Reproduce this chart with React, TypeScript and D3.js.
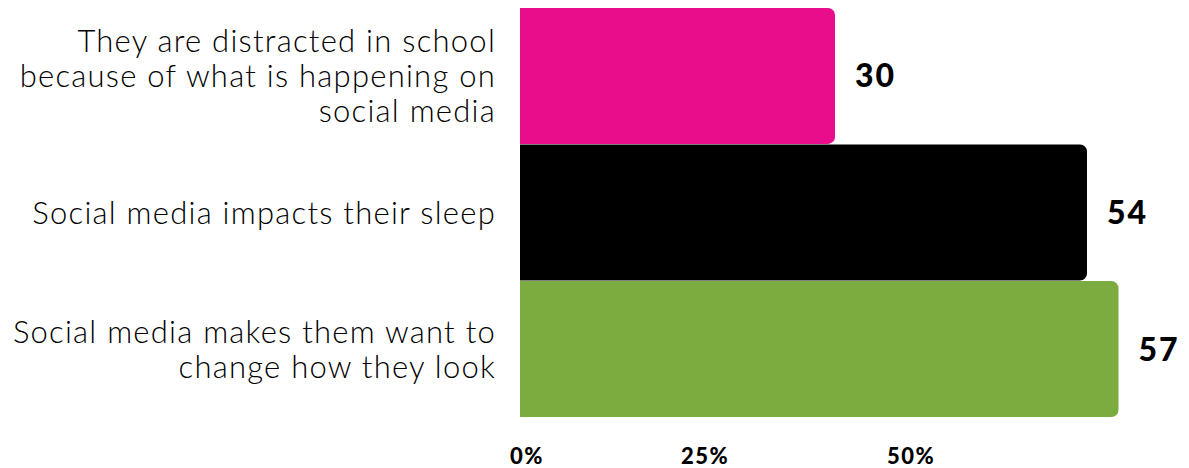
import React from "react";
import * as d3 from "d3";

// Share of respondents agreeing with each statement (percent)
const categories: string[][] = [
  ["They are distracted in school", "because of what is happening on", "social media"],
  ["Social media impacts their sleep"],
  ["Social media makes them want to", "change how they look"],
];
const values: number[] = [30, 54, 57];
const barColors: string[] = ["#E90C8B", "#000000", "#7CAC3F"];
const tickValues: number[] = [0, 25, 50];
const tickLabels: string[] = ["0%", "25%", "50%"];

const W = 1189;
const H = 468;

// rect with square left corners and rounded right corners
function rightRounded(x: number, y: number, w: number, h: number, r: number) {
  const rr = Math.min(r, w / 2, h / 2);
  const p = d3.path();
  p.moveTo(x, y);
  p.lineTo(x + w - rr, y);
  p.arcTo(x + w, y, x + w, y + rr, rr);
  p.lineTo(x + w, y + h - rr);
  p.arcTo(x + w, y + h, x + w - rr, y + h, rr);
  p.lineTo(x, y + h);
  p.closePath();
  return p.toString();
}

export default function App() {
  const x = d3.scaleLinear().domain([0, 64]).range([520, 1192]);
  const y = d3
    .scaleBand<number>()
    .domain(values.map((_, i) => i))
    .range([8, 417])
    .paddingInner(0.005);
  // label positions along the bottom axis
  const tickX = d3.scaleLinear().domain(tickValues).range([527, 705, 911]);

  const labelFont = "Lato, 'Noto Sans', sans-serif";
  const lineH = 35;
  const labelRight = 496;

  return (
    <svg
      width={W}
      height={H}
      style={{ position: "absolute", left: 0, top: 0, background: "#fff" }}
    >
      {values.map((v, i) => {
        const y0 = y(i)!;
        const bh = y.bandwidth();
        const cy = y0 + bh / 2;
        const lines = categories[i];
        const firstOffset = -((lines.length - 1) * lineH) / 2;
        return (
          <g key={i}>
            <path
              d={rightRounded(x(0), y0, x(v) - x(0), bh, 7)}
              fill={barColors[i]}
            />
            <text
              x={x(v) + 20}
              y={cy}
              dy="0.36em"
              fontFamily={labelFont}
              fontWeight={900}
              fontSize={32}
              letterSpacing={2}
              fill="#000"
            >
              {v}
            </text>
            <text
              textAnchor="end"
              fontFamily={labelFont}
              fontWeight={300}
              fontSize={31}
              letterSpacing={1.25}
              fill="#000"
            >
              {lines.map((ln, j) => (
                <tspan
                  key={j}
                  x={labelRight}
                  y={cy + firstOffset + j * lineH}
                  dy="0.36em"
                >
                  {ln}
                </tspan>
              ))}
            </text>
          </g>
        );
      })}
      {tickValues.map((t, i) => (
        <text
          key={t}
          x={tickX(t)}
          y={456}
          dy="0.36em"
          textAnchor="middle"
          fontFamily={labelFont}
          fontWeight={900}
          fontSize={22}
          letterSpacing={1.5}
          fill="#000"
        >
          {tickLabels[i]}
        </text>
      ))}
    </svg>
  );
}
